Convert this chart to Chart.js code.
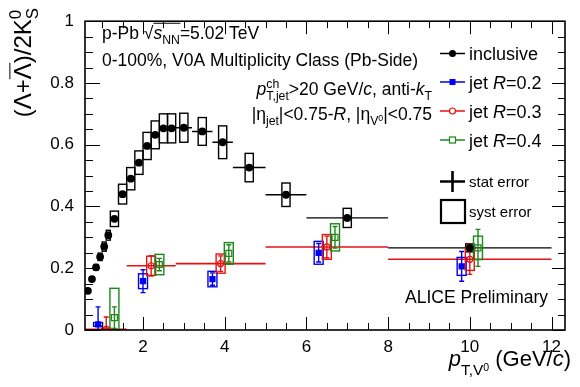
<!DOCTYPE html>
<html><head><meta charset="utf-8">
<script src="https://cdn.jsdelivr.net/npm/chart.js"></script>
<style>html,body{margin:0;padding:0;background:#fff}#wrap{width:580px;height:387px}</style>
</head><body><div id="wrap"><canvas id="c" width="580" height="387"></canvas></div>
<script>
// ---- data ----
const xTickLabels = [2, 4, 6, 8, 10, 12];
const yTickLabels = [0, 0.2, 0.4, 0.6, 0.8, 1];

const incX    = [0.65, 0.75, 0.85, 0.95, 1.05, 1.15, 1.3, 1.5, 1.7, 1.9, 2.1, 2.3, 2.5, 2.7, 3.0, 3.45, 3.95, 4.6, 5.5, 7.0, 10.0];
const incXerr = [0.05, 0.05, 0.05, 0.05, 0.05, 0.05, 0.1, 0.1, 0.1, 0.1, 0.1, 0.1, 0.1, 0.1, 0.2, 0.25, 0.25, 0.4, 0.5, 1.0, 2.0];
const incY    = [0.127, 0.165, 0.203, 0.237, 0.270, 0.307, 0.360, 0.440, 0.490, 0.542, 0.596, 0.632, 0.653, 0.653, 0.655, 0.643, 0.608, 0.526, 0.438, 0.363, 0.266];
const incStat = [0.003, 0.003, 0.003, 0.003, 0.003, 0.004, 0.004, 0.004, 0.004, 0.005, 0.005, 0.005, 0.006, 0.006, 0.006, 0.007, 0.008, 0.008, 0.010, 0.012, 0.016];
const incSyst = [0.006, 0.007, 0.009, 0.012, 0.015, 0.016, 0.025, 0.032, 0.036, 0.038, 0.044, 0.045, 0.047, 0.047, 0.047, 0.045, 0.053, 0.046, 0.038, 0.031, 0.013];

const jetBinLo = [0.6, 1.6, 2.8, 5.0, 8.0];
const jetBinHi = [1.6, 2.8, 5.0, 8.0, 12.0];

const r02X    = [0.9, 2.0, 3.7, 6.3, 9.8];
const r02Y    = [0.018, 0.158, 0.165, 0.250, 0.206];
const r02Stat = [0.057, 0.037, 0.020, 0.030, 0.048];
const r02Syst = [0.006, 0.024, 0.025, 0.037, 0.029];

const r03X    = [1.1, 2.2, 3.9, 6.5, 10.0];
const r03Y    = [0.002, 0.208, 0.215, 0.269, 0.229];
const r03Stat = [0.040, 0.033, 0.025, 0.035, 0.049];
const r03Syst = [0.004, 0.031, 0.031, 0.040, 0.036];

const r04X    = [1.3, 2.4, 4.1, 6.7, 10.2];
const r04Y    = [0.040, 0.212, 0.248, 0.300, 0.266];
const r04Stat = [0.035, 0.020, 0.028, 0.035, 0.060];
const r04Syst = [0.095, 0.033, 0.035, 0.044, 0.038];

// ---- styling ----
const FONT = '"Liberation Sans", Arial, Helvetica, sans-serif';
const BLUE = '#0000ee', RED = '#e81010', GREEN = '#1a881a', BLACK = '#000';
function fnt(size, italic) { return (italic ? 'italic ' : '') + size + 'px ' + FONT; }
function pts(xs, ys) { return xs.map((x, i) => ({ x: x, y: ys[i] })); }

function drawRich(ctx, x, y, segs, size, align) {
  const lay = []; let cx = 0, lastStart = 0;
  for (const s of segs) {
    let k = 1, d = 0;
    if (s.sub) { k = 0.7; d = 0.3; }
    if (s.sup) { k = 0.7; d = -0.42; }
    if (s.k !== undefined) k = s.k;
    if (s.d !== undefined) d = s.d;
    const sz = size * k;
    ctx.font = fnt(sz, s.i);
    const w = ctx.measureText(s.t).width;
    let sx;
    if (s.stack) { sx = lastStart; cx = Math.max(cx, lastStart + w); }
    else { sx = cx; cx += w; lastStart = sx; }
    lay.push({ s, sx, sz, w, dy: d * size });
  }
  const x0 = align === 'right' ? x - cx : x;
  for (const L of lay) {
    ctx.font = fnt(L.sz, L.s.i);
    ctx.fillText(L.s.t, x0 + L.sx, y + L.dy);
    if (L.s.over) {
      const oy = y - size * (L.s.overH || 0.86);
      ctx.save(); ctx.lineWidth = 1; ctx.beginPath();
      ctx.moveTo(x0 + L.sx, oy); ctx.lineTo(x0 + L.sx + L.w + 0.5, oy); ctx.stroke(); ctx.restore();
    }
  }
  return cx;
}

function drawSeries(ctx, xs, ys, X, Y, stat, syst, color, boxHalf, cap) {
  ctx.strokeStyle = color; ctx.lineWidth = 1.4;
  for (let i = 0; i < X.length; i++) {
    const hw = boxHalf(i);
    const x1 = xs.getPixelForValue(X[i] - hw), x2 = xs.getPixelForValue(X[i] + hw);
    const y1 = ys.getPixelForValue(Y[i] + syst[i]), y2 = ys.getPixelForValue(Y[i] - syst[i]);
    ctx.strokeRect(x1, y1, x2 - x1, y2 - y1);
    const px = xs.getPixelForValue(X[i]);
    const sy1 = ys.getPixelForValue(Y[i] + stat[i]), sy2 = ys.getPixelForValue(Y[i] - stat[i]);
    ctx.beginPath(); ctx.moveTo(px, sy1); ctx.lineTo(px, sy2);
    if (cap) { ctx.moveTo(px - cap, sy1); ctx.lineTo(px + cap, sy1); ctx.moveTo(px - cap, sy2); ctx.lineTo(px + cap, sy2); }
    ctx.stroke();
  }
}

const errPlugin = {
  id: 'errs',
  beforeDatasetsDraw(chart) {
    const ctx = chart.ctx, xs = chart.scales.x, ys = chart.scales.y, a = chart.chartArea;
    ctx.save();
    ctx.beginPath(); ctx.rect(a.left, a.top, a.right - a.left, a.bottom - a.top); ctx.clip();
    ctx.strokeStyle = BLACK; ctx.lineWidth = 1.4;
    for (let i = 0; i < incX.length; i++) {
      const py = ys.getPixelForValue(incY[i]);
      ctx.beginPath(); ctx.moveTo(xs.getPixelForValue(incX[i] - incXerr[i]), py);
      ctx.lineTo(xs.getPixelForValue(incX[i] + incXerr[i]), py); ctx.stroke();
    }
    drawSeries(ctx, xs, ys, incX, incY, incStat, incSyst, BLACK, i => Math.min(incXerr[i], 0.1), 0);
    ctx.strokeStyle = RED; ctx.lineWidth = 1.6;
    for (let i = 0; i < r03X.length; i++) {
      const py = ys.getPixelForValue(r03Y[i]);
      ctx.beginPath(); ctx.moveTo(xs.getPixelForValue(jetBinLo[i]), py);
      ctx.lineTo(xs.getPixelForValue(jetBinHi[i]), py); ctx.stroke();
    }
    drawSeries(ctx, xs, ys, r02X, r02Y, r02Stat, r02Syst, BLUE, () => 0.11, 2.5);
    drawSeries(ctx, xs, ys, r03X, r03Y, r03Stat, r03Syst, RED, () => 0.11, 2.5);
    drawSeries(ctx, xs, ys, r04X, r04Y, r04Stat, r04Syst, GREEN, () => 0.11, 2.5);
    ctx.restore();
  },
  afterDraw(chart) {
    const ctx = chart.ctx, xs = chart.scales.x, ys = chart.scales.y, a = chart.chartArea;
    ctx.save();
    ctx.strokeStyle = BLACK; ctx.lineWidth = 1;
    ctx.beginPath();
    for (let k = 1; k <= 24; k++) {
      const v = k * 0.5; if (v < xs.min || v > xs.max) continue;
      const p = Math.round(xs.getPixelForValue(v)) + 0.5;
      const major = k % 4 === 0; const L = major ? 13 : 7;
      ctx.moveTo(p, a.bottom); ctx.lineTo(p, a.bottom - L);
      ctx.moveTo(p, a.top); ctx.lineTo(p, a.top + L);
    }
    for (let k = 0; k <= 20; k++) {
      const v = k * 0.05;
      const p = Math.round(ys.getPixelForValue(v)) + 0.5;
      const major = k % 4 === 0;
      ctx.moveTo(a.left, p); ctx.lineTo(a.left + (major ? 15 : 8), p);
      ctx.moveTo(a.right, p); ctx.lineTo(a.right - (major ? 13 : 7), p);
    }
    ctx.stroke();
    ctx.lineWidth = 1.6;
    ctx.strokeRect(a.left, a.top, a.right - a.left, a.bottom - a.top);

    ctx.fillStyle = BLACK; ctx.textBaseline = 'alphabetic'; ctx.textAlign = 'left';
    drawRich(ctx, 102, 39, [{ t: 'p-Pb ' }, { t: '√' }, { t: 's', i: true, over: true, overH: 0.9 }, { t: 'NN', sub: true, over: true, overH: 0.9 }, { t: '=5.02 TeV' }], 17.5);
    drawRich(ctx, 102, 66, [{ t: '0-100%, V0A Multiplicity Class (Pb-Side)' }], 17.5);
    drawRich(ctx, 432, 95, [{ t: 'p', i: true }, { t: 'ch', sup: true }, { t: 'T,jet', sub: true, stack: true }, { t: '>20 GeV/' }, { t: 'c', i: true }, { t: ', anti-' }, { t: 'k', i: true }, { t: 'T', sub: true }], 17.5, 'right');
    drawRich(ctx, 432, 120, [{ t: '|η' }, { t: 'jet', sub: true }, { t: '|<0.75-' }, { t: 'R', i: true }, { t: ', |η' }, { t: 'V', sub: true }, { t: '0', k: 0.5, d: 0.08 }, { t: '|<0.75' }], 17.5, 'right');
    const lx1 = 440, lx2 = 465, tx = 469;
    const leg = [
      { y: 53.5, c: BLACK, m: 'dot', txt: [{ t: 'inclusive' }] },
      { y: 82, c: BLUE, m: 'fsq', txt: [{ t: 'jet ' }, { t: 'R', i: true }, { t: '=0.2' }] },
      { y: 111, c: RED, m: 'ocirc', txt: [{ t: 'jet ' }, { t: 'R', i: true }, { t: '=0.3' }] },
      { y: 140, c: GREEN, m: 'osq', txt: [{ t: 'jet ' }, { t: 'R', i: true }, { t: '=0.4' }] }
    ];
    for (const e of leg) {
      ctx.strokeStyle = e.c; ctx.fillStyle = e.c; ctx.lineWidth = 1.5;
      ctx.beginPath(); ctx.moveTo(lx1, e.y); ctx.lineTo(lx2, e.y); ctx.stroke();
      const mx = (lx1 + lx2) / 2;
      if (e.m === 'dot') { ctx.beginPath(); ctx.arc(mx, e.y, 3.5, 0, Math.PI * 2); ctx.fill(); }
      if (e.m === 'fsq') { ctx.fillRect(mx - 3, e.y - 3, 6, 6); }
      if (e.m === 'ocirc') { ctx.fillStyle = '#fff'; ctx.beginPath(); ctx.arc(mx, e.y, 3, 0, Math.PI * 2); ctx.fill(); ctx.lineWidth = 1.2; ctx.stroke(); }
      if (e.m === 'osq') { ctx.fillStyle = '#fff'; ctx.fillRect(mx - 3, e.y - 3, 6, 6); ctx.lineWidth = 1.2; ctx.strokeRect(mx - 3, e.y - 3, 6, 6); }
      ctx.fillStyle = BLACK;
      drawRich(ctx, tx, e.y + 6.5, e.txt, 18);
    }
    ctx.strokeStyle = BLACK; ctx.lineWidth = 2.6;
    ctx.beginPath(); ctx.moveTo(lx1, 181.5); ctx.lineTo(lx2, 181.5); ctx.moveTo(452.5, 171); ctx.lineTo(452.5, 192); ctx.stroke();
    ctx.lineWidth = 2.2; ctx.strokeRect(441, 200, 24, 23);
    ctx.fillStyle = BLACK;
    drawRich(ctx, tx, 187, [{ t: 'stat error' }], 15);
    drawRich(ctx, tx, 217, [{ t: 'syst error' }], 15);
    drawRich(ctx, 548, 303, [{ t: 'ALICE Preliminary' }], 17.5, 'right');
    drawRich(ctx, 571, 366, [{ t: 'p', i: true }, { t: 'T,V', k: 0.7, d: 0.42 }, { t: '0', k: 0.48, d: 0.22 }, { t: ' (GeV/' }, { t: 'c', i: true }, { t: ')' }], 22, 'right');
    ctx.save(); ctx.translate(31, 8); ctx.rotate(-Math.PI / 2);
    drawRich(ctx, 0, 0, [{ t: '(Λ+' }, { t: 'Λ', over: true, overH: 0.88 }, { t: ')/2K' }, { t: '0', sup: true }, { t: 'S', sub: true, stack: true }], 24, 'right');
    ctx.restore();
    ctx.restore();
  }
};

new Chart(document.getElementById('c'), {
  type: 'scatter',
  data: {
    datasets: [
      { label: 'inclusive', data: pts(incX, incY), pointStyle: 'circle', pointRadius: 3.9, backgroundColor: BLACK, borderColor: BLACK, borderWidth: 0 },
      { label: 'jet R=0.2', data: pts(r02X, r02Y), pointStyle: 'rect', pointRadius: 4.4, backgroundColor: BLUE, borderColor: BLUE, borderWidth: 0 },
      { label: 'jet R=0.3', data: pts(r03X, r03Y), pointStyle: 'circle', pointRadius: 3, backgroundColor: 'rgba(0,0,0,0)', borderColor: RED, borderWidth: 1.2 },
      { label: 'jet R=0.4', data: pts(r04X, r04Y), pointStyle: 'rect', pointRadius: 4.2, backgroundColor: 'rgba(0,0,0,0)', borderColor: GREEN, borderWidth: 1.2 }
    ]
  },
  options: {
    responsive: false, animation: false, devicePixelRatio: 1, events: [],
    layout: { padding: { left: 0, right: 15, top: 10, bottom: 0 } },
    plugins: { legend: { display: false }, tooltip: { enabled: false } },
    scales: {
      x: {
        type: 'linear', min: 0.58, max: 12.33,
        grid: { display: false, drawTicks: false }, border: { display: false },
        ticks: { color: BLACK, padding: 7, font: { family: FONT, size: 17 }, callback: v => String(v), maxRotation: 0 },
        afterBuildTicks: s => { s.ticks = xTickLabels.map(v => ({ value: v })); },
        afterFit: s => { s.height = 57; }
      },
      y: {
        type: 'linear', min: 0, max: 1,
        grid: { display: false, drawTicks: false }, border: { display: false },
        ticks: { color: BLACK, padding: 11, font: { family: FONT, size: 17 }, callback: v => (v === 0 ? '0' : v === 1 ? '1' : v.toFixed(1)) },
        afterBuildTicks: s => { s.ticks = yTickLabels.map(v => ({ value: v })); },
        afterFit: s => { s.width = 85; }
      }
    }
  },
  plugins: [errPlugin]
});
</script>
</body></html>
